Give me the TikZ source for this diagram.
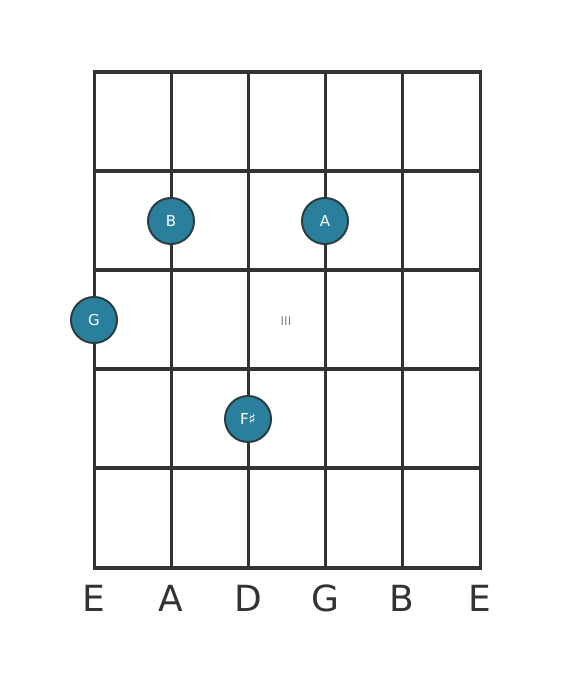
\documentclass[tikz,border=0pt]{standalone}
\usepackage{fontspec}
\setmainfont{DejaVu Sans}
\begin{document}
\begin{tikzpicture}[x=1pt,y=-1pt,
  gridline/.style={draw=linecol,line width=3pt},
  fretline/.style={draw=linecol,line width=4pt},
  note/.style={circle,fill=notefill,draw=notedraw,line width=2pt,minimum size=46pt,inner sep=0pt,text=white,font=\fontsize{15}{15}\selectfont},
  strlabel/.style={text=linecol,font=\fontsize{36}{36}\selectfont,inner sep=0pt}]
\definecolor{linecol}{HTML}{333333}
\definecolor{notefill}{HTML}{2A809C}
\definecolor{notedraw}{HTML}{2A3D45}
\useasboundingbox (0,0) rectangle (560,682);
\foreach \x in {94,171,248,325,402,480}
  \draw[gridline] (\x,72) -- (\x,568);
\foreach \y in {72,171,270,369,468,568}
  \draw[fretline] (92.5,\y) -- (481.5,\y);
\node[note] (nB) at (171,221) {B};
\node[note] (nA) at (325,221) {A};
\node[note] (nG) at (94,320) {G};
\node[note] (nF) at (248,419) {F♯};
\node[text=gray,font=\fontsize{12}{12}\selectfont] (fret) at (286,321) {III};
\foreach \x/\l/\n in {94/E/1,171/A/2,248/D/3,325/G/4,402/B/5,480/E/6}
  \node[strlabel] (l\n) at (\x,598) {\l};
\end{tikzpicture}
\end{document}
